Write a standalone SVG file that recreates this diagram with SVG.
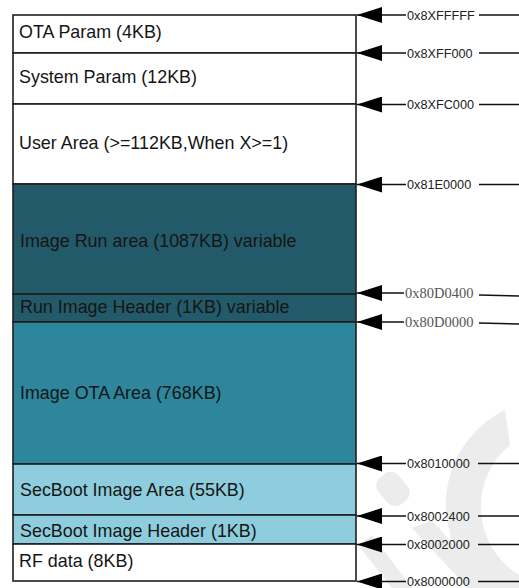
<svg xmlns="http://www.w3.org/2000/svg" width="519" height="588" viewBox="0 0 519 588">
<defs>
<style>
.box{stroke:#1e1e1e;stroke-width:1.6}
.lbl{font-family:"Liberation Sans",Arial,sans-serif;font-size:17.9px;fill:#151515}
.addr{font-family:"Liberation Sans",Arial,sans-serif;font-size:12.7px;fill:#222}
.addrs{font-family:"Liberation Serif","Times New Roman",serif;font-size:14.5px;fill:#555}
.ln{stroke:#111;stroke-width:1.6;fill:none}
.wm{fill:#ececec}
</style>
<marker id="ah" markerWidth="25" markerHeight="16" refX="0" refY="8" orient="0" markerUnits="userSpaceOnUse">
<path d="M0,8 L25,0 L25,16 Z" fill="#000"/>
</marker>
</defs>
<rect width="519" height="588" fill="#fff"/>
<g id="watermark">
<path class="wm" d="M505,410 A105,105 0 0 0 490,590 L519,590 L519,575 A80,80 0 0 1 510,445 Z"/>
<rect class="wm" x="380" y="472" width="26" height="34" rx="10" transform="rotate(-40 393 489)"/>
<path class="wm" d="M412,528 L432,520 L490,588 L468,588 Z"/>
<path class="wm" d="M358,545 L372,535 L412,588 L392,588 Z"/>
</g>
<g id="ota-param"><rect class="box" x="13" y="15" width="343" height="38" fill="#fff"/><text class="lbl" x="19" y="38">OTA Param (4KB)</text></g>
<g id="system-param"><rect class="box" x="13" y="53" width="343" height="51" fill="#fff"/><text class="lbl" x="19" y="83">System Param (12KB)</text></g>
<g id="user-area"><rect class="box" x="13" y="104" width="343" height="80" fill="#fff"/><text class="lbl" x="19" y="149">User Area (&gt;=112KB,When X&gt;=1)</text></g>
<g id="image-run"><rect class="box" x="13" y="184" width="343" height="110" fill="#235A69"/><text class="lbl" x="20" y="247">Image Run area (1087KB) variable</text></g>
<g id="run-header"><rect class="box" x="13" y="294" width="343" height="28" fill="#235A69"/><text class="lbl" x="20" y="313">Run Image Header (1KB) variable</text></g>
<g id="image-ota"><rect class="box" x="13" y="322" width="343" height="142" fill="#2E869C"/><text class="lbl" x="20" y="399">Image OTA Area (768KB)</text></g>
<g id="secboot-area"><rect class="box" x="13" y="464" width="343" height="51" fill="#8ECDDD"/><text class="lbl" x="20" y="496">SecBoot Image Area (55KB)</text></g>
<g id="secboot-header"><rect class="box" x="13" y="515" width="343" height="29" fill="#8ECDDD"/><text class="lbl" x="20" y="537">SecBoot Image Header (1KB)</text></g>
<g id="rf-data"><rect class="box" x="13" y="544" width="343" height="37" fill="#fff"/><text class="lbl" x="19" y="567">RF data (8KB)</text></g>
<g id="connectors">
<path class="ln" marker-start="url(#ah)" d="M357,15 H406 M479,15 H519"/>
<path class="ln" marker-start="url(#ah)" d="M357,53 H406 M479,53 H519"/>
<path class="ln" marker-start="url(#ah)" d="M357,104.5 H406 M479,104.5 H519"/>
<path class="ln" marker-start="url(#ah)" d="M357,184.5 H406 M479,184.5 H519"/>
<path class="ln" marker-start="url(#ah)" d="M357,293 H404 M479,295 L519,296"/>
<path class="ln" marker-start="url(#ah)" d="M357,322 H404 M479,323 L519,324"/>
<path class="ln" marker-start="url(#ah)" d="M357,463.5 H406 M478,463.5 H519"/>
<path class="ln" marker-start="url(#ah)" d="M357,516 H406 M478,516 H519"/>
<path class="ln" marker-start="url(#ah)" d="M357,544.5 H406 M478,544.5 H519"/>
<path class="ln" marker-start="url(#ah)" d="M357,581.5 H406 M478,581.5 H519"/>
</g>
<g id="addresses">
<text class="addr" x="407" y="19.5">0x8XFFFFF</text>
<text class="addr" x="407" y="57.5">0x8XFF000</text>
<text class="addr" x="407" y="109">0x8XFC000</text>
<text class="addr" x="407" y="189">0x81E0000</text>
<text class="addrs" x="405" y="298">0x80D0400</text>
<text class="addrs" x="405" y="327">0x80D0000</text>
<text class="addr" x="407" y="468">0x8010000</text>
<text class="addr" x="407" y="520.5">0x8002400</text>
<text class="addr" x="407" y="549">0x8002000</text>
<text class="addr" x="407" y="586">0x8000000</text>
</g>
</svg>
